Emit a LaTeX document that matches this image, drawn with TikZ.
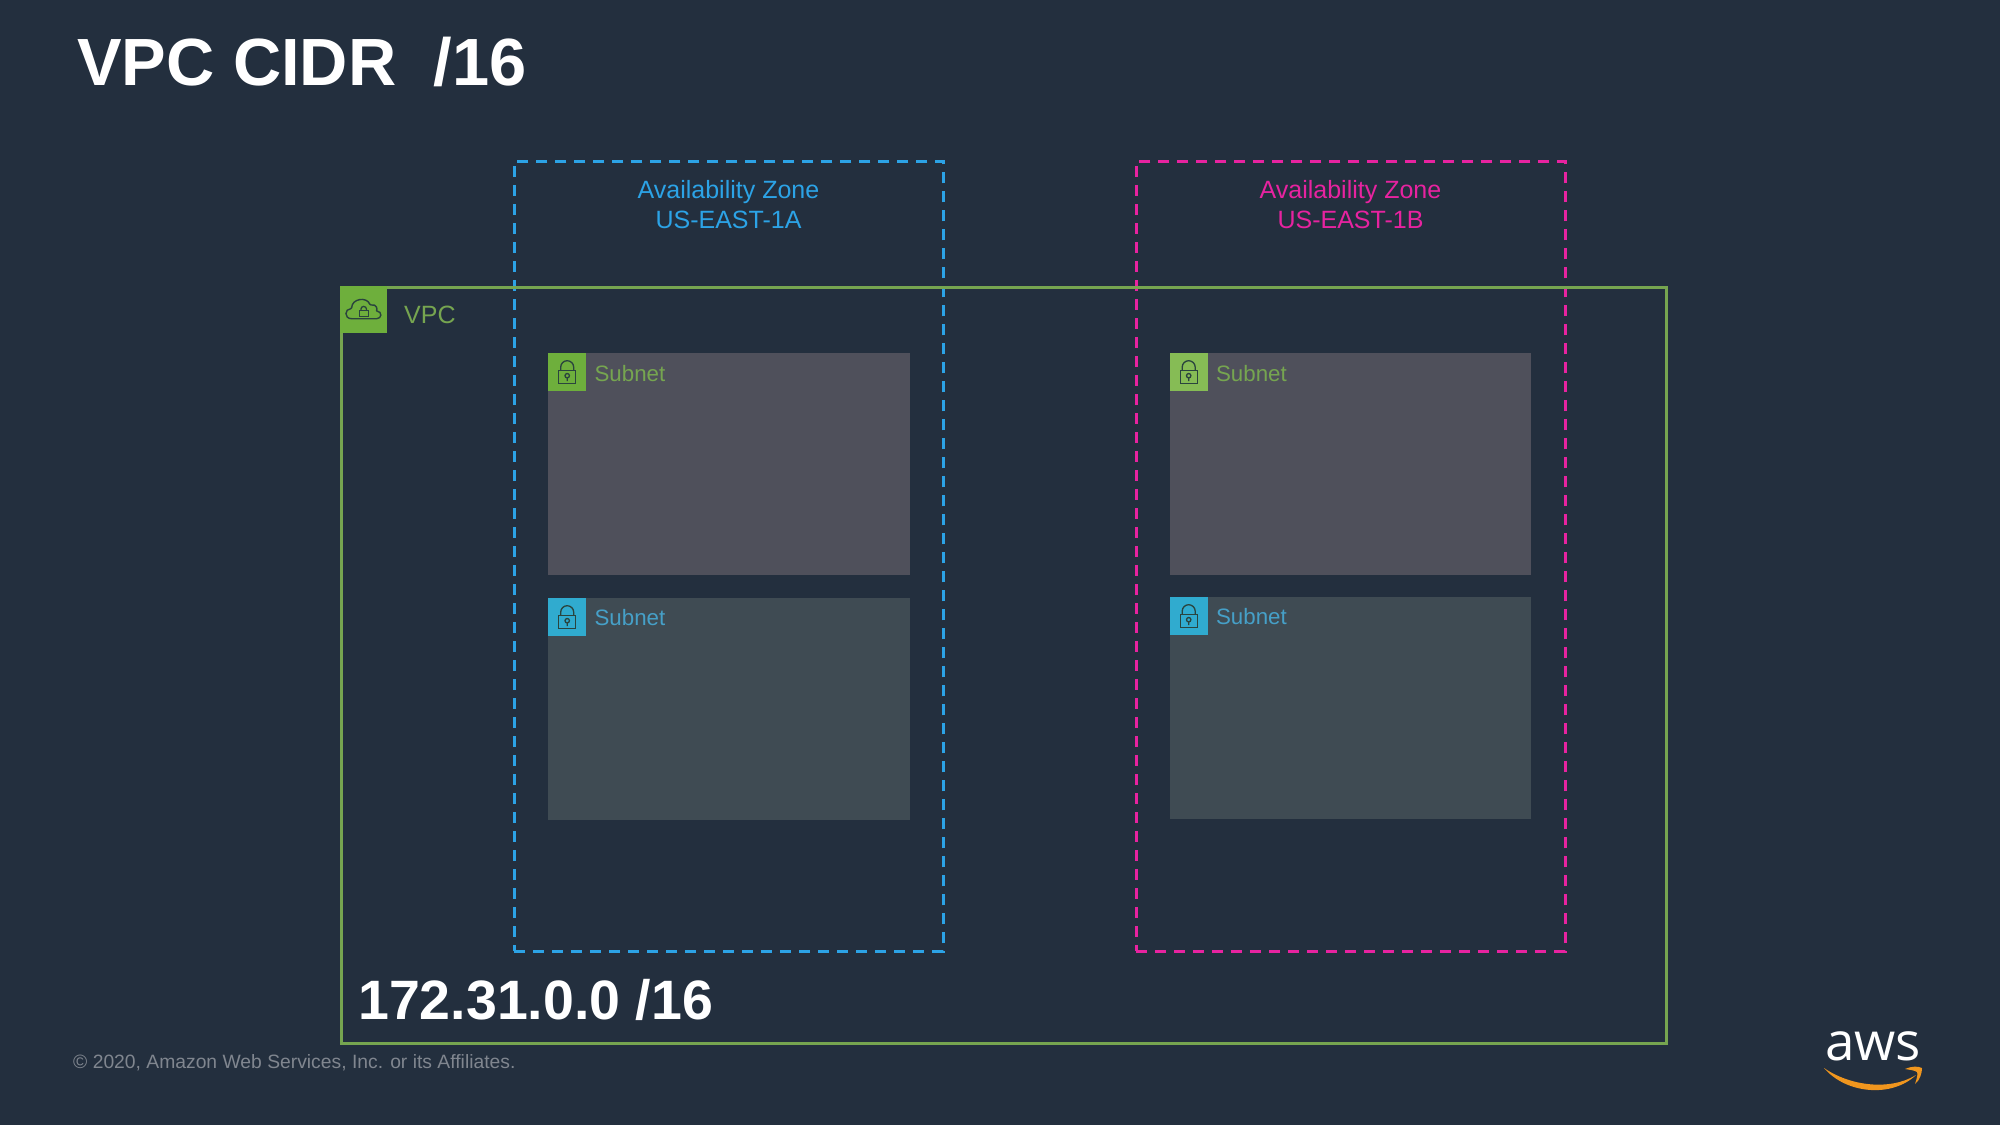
\documentclass[tikz,border=0pt]{standalone}
\usepackage{fontspec}
\setmainfont{Liberation Sans}
\newfontfamily\logofont{Open Sans}
\usetikzlibrary{positioning,arrows.meta}
\definecolor{fond}{HTML}{232F3E}
\definecolor{vpcgreen}{RGB}{118,165,80}
\definecolor{azblue}{RGB}{44,163,230}
\definecolor{azpink}{RGB}{231,35,160}
\definecolor{subgreen}{RGB}{110,175,60}
\definecolor{subgreenb}{RGB}{134,188,85}
\definecolor{subcyan}{RGB}{48,171,207}
\definecolor{txtcyan}{RGB}{70,160,200}
\definecolor{subgrey}{RGB}{79,80,91}
\definecolor{subslate}{RGB}{63,75,83}
\definecolor{awsorange}{RGB}{240,150,30}
\definecolor{trait}{RGB}{42,68,62}
\tikzset{
  zone/.style={draw=#1, dashed, dash pattern=on 11pt off 8pt, line width=2.6pt, anchor=north west,
    minimum width=429pt, minimum height=790pt, inner sep=0pt},
  zonetxt/.style={text=#1, font=\fontsize{25}{30}\selectfont, align=center},
  vpcbox/.style={draw=vpcgreen, line width=2.6pt, anchor=north west,
    minimum width=1325pt, minimum height=756pt, inner sep=0pt},
  subbox/.style={fill=#1, anchor=north west, minimum width=361.5pt, minimum height=222pt, inner sep=0pt},
  subtag/.style={fill=#1, anchor=north west, minimum width=38pt, minimum height=38pt, inner sep=0pt},
  subtxt/.style={text=#1, anchor=west, font=\fontsize{22.3}{26}\selectfont, inner sep=0pt},
  lockicon/.pic={
    \draw[trait, line width=1.3pt] (-8.5,-1.5) rectangle (8.5,11.5);
    \draw[trait, line width=1.3pt] (-6.5,-1.5) -- (-6.5,-5) arc[start angle=180, end angle=360, radius=6.5] -- (6.5,-1.5);
    \draw[trait, line width=1.3pt] (0,3.5) circle (2.2) (0,5.7) -- (0,9);
  },
  cloudicon/.pic={
    \draw[trait, line width=1.4pt, rounded corners=1pt] (-11,9) .. controls (-20,9) and (-19,-1) .. (-12,-1)
      .. controls (-12,-11) and (3,-13.5) .. (6.5,-4.5) .. controls (13,-6) and (14,0) .. (12,1)
      .. controls (19,2) and (18,9) .. (12,9) -- cycle;
    \draw[trait, line width=1.3pt] (-4.5,1) rectangle (4.5,6.5);
    \draw[trait, line width=1.3pt] (-2.8,1) -- (-2.8,-0.5) arc[start angle=180, end angle=360, radius=2.8] -- (2.8,1);
  },
}
\begin{document}
\begin{tikzpicture}[x=1pt, y=-1pt]
    \useasboundingbox[fill=fond] (0,0) rectangle (2000,1124.7);
    % Titre
    \node[anchor=west, text=white, inner sep=0pt, font=\fontsize{66.8}{70}\selectfont\bfseries] (titre) at (77,62) {VPC CIDR\ \ /16};
    % Zones
    \node[zone=azblue] (azA) at (513,160) {};
    \node[zone=azpink] (azB) at (1135,160) {};
    \node[zonetxt=azblue] (azAtxt) at (728.5,204.5) {Availability Zone\\US-EAST-1A};
    \node[zonetxt=azpink] (azBtxt) at (1350.5,204.5) {Availability Zone\\US-EAST-1B};
    % VPC
    \node[vpcbox] (vpc) at (340,286) {};
    \node[fill=subgreen, anchor=north west, minimum width=47pt, minimum height=47pt, inner sep=0pt] (vpctag) at (340,286) {};
    \pic at (vpctag.center) {cloudicon};
    \node[subtxt=vpcgreen, font=\fontsize{25}{28}\selectfont] (vpctxt) at (404,314.5) {VPC};
    % Subnets
    \node[subbox=subgrey] (subA) at (548,353) {};
    \node[subbox=subslate] (subC) at (548,598) {};
    \node[subbox=subgrey] (subB) at (1169.5,353) {};
    \node[subbox=subslate] (subD) at (1169.5,597) {};
    \node[subtag=subgreen] (tagA) at (548,353) {};
    \node[subtag=subcyan] (tagC) at (548,598) {};
    \node[subtag=subgreenb] (tagB) at (1169.5,353) {};
    \node[subtag=subcyan] (tagD) at (1169.5,597) {};
    \foreach \t in {tagA,tagC,tagB,tagD} {
      \pic at (\t.center) {lockicon};
    }
    \node[subtxt=vpcgreen, right=8pt of tagA, yshift=-1pt] (txtA) {Subnet};
    \node[subtxt=txtcyan, right=8pt of tagC] (txtC) {Subnet};
    \node[subtxt=vpcgreen, right=8pt of tagB, yshift=-1pt] (txtB) {Subnet};
    \node[subtxt=txtcyan, right=8pt of tagD] (txtD) {Subnet};
    % Adresse et pied de page
    \node[anchor=west, text=white, inner sep=0pt, font=\fontsize{55.5}{60}\selectfont\bfseries] (cidr) at (358,1000) {172.31.0.0 /16};
    \node[anchor=west, text=white!42!fond, inner sep=0pt, font=\fontsize{19.3}{22}\selectfont] (copy) at (73,1063) {© 2020, Amazon Web Services, Inc. or its Affiliates.};
    % Logo
    \node[text=white, inner sep=0pt, font=\logofont\fontsize{53}{53}\selectfont] (aws) at (1873,1046) {aws};
    \fill[awsorange] (1824,1068) .. controls (1850,1086) and (1890,1091) .. (1916,1075)
      .. controls (1892,1098) and (1846,1094) .. (1824,1068) -- cycle;
    \fill[awsorange] (1905,1069) .. controls (1912,1066) and (1918,1066) .. (1922,1068)
      .. controls (1922,1073) and (1920,1080) .. (1915,1084) .. controls (1917,1078) and (1918,1074) .. (1917,1072) .. controls (1914,1070) and (1910,1070) .. (1905,1069) -- cycle;
\end{tikzpicture}
\end{document}
